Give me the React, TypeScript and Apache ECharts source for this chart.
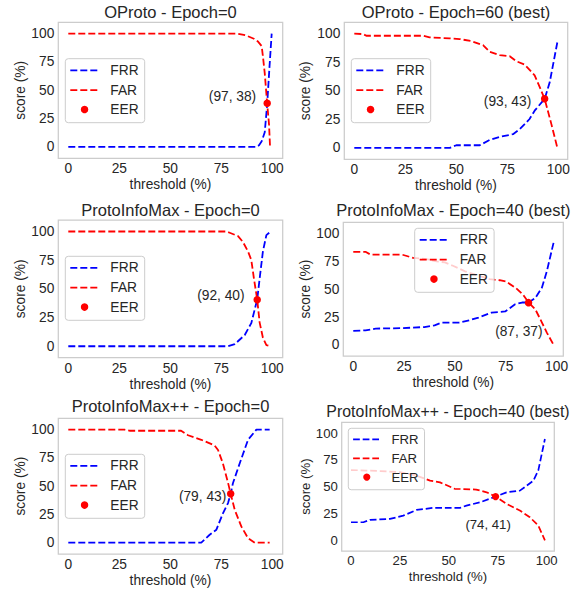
import React, { useEffect, useRef } from "react";
import * as echarts from "echarts";

// ---------- data ----------
const tickValues = [0, 25, 50, 75, 100];
const seriesNames = ["FRR", "FAR", "EER"];

const titles = [
  "OProto - Epoch=0",
  "OProto - Epoch=60 (best)",
  "ProtoInfoMax - Epoch=0",
  "ProtoInfoMax - Epoch=40 (best)",
  "ProtoInfoMax++ - Epoch=0",
  "ProtoInfoMax++ - Epoch=40 (best)",
];

const oproto0FRR = [[0, 0], [92, 0], [93.5, 1.5], [94.8, 5], [96.3, 13], [97.5, 38], [98.6, 70], [99.7, 100]];
const oproto0FAR = [[0, 100], [83, 100], [87, 98.5], [91, 95.5], [93, 93], [94.8, 89], [95.4, 80], [96.3, 65], [97.5, 38], [98.4, 20], [98.9, 0]];
const oproto0EER = [97.5, 38.5];

const oproto60FRR = [[0, 0], [46.8, 0], [50, 2.3], [61.5, 2.3], [66.4, 7], [71.3, 9.7], [77.8, 12], [81.1, 16.4], [83.5, 20.8], [85.9, 25.3], [88.4, 32.6], [93.3, 42.9], [95.8, 57.6], [99.5, 92.3]];
const oproto60FAR = [[0, 100], [4.3, 99.7], [5.9, 98.2], [33.7, 98.2], [36.9, 96.8], [46.8, 95.9], [51.7, 95.3], [57.4, 93.5], [63.1, 90], [66.4, 84.1], [71.3, 81.2], [76.2, 80.3], [79.4, 75.9], [83.5, 73], [88.4, 63.5], [90.9, 53.2], [93.3, 42.9], [96.6, 20.8], [99.5, 0.3]];
const oproto60EER = [93.3, 43];

const pim0FRR = [[0, 0], [78.3, 0], [81.6, 1.8], [86.5, 9.8], [89.7, 20.1], [92.6, 40.7], [93.8, 59], [95.4, 82.6], [97.1, 96.8], [99.2, 100]];
const pim0FAR = [[0, 100], [77.5, 100], [79.1, 98.9], [83.2, 96], [85.6, 90.9], [88.1, 82.6], [89.7, 75.2], [91, 59], [92.6, 40.7], [93.8, 20.6], [95.4, 7.4], [97.1, 1], [99.5, 0]];
const pim0EER = [92.6, 40.5];

const pim40FRR = [[0, 12.5], [6, 13], [11, 14.6], [24, 15], [35, 16], [40, 17.5], [43.6, 20], [52, 20], [57, 22], [61.6, 24.5], [68, 29], [74.7, 30], [79.6, 36.4], [83, 38], [86.2, 38], [89.5, 42], [92.8, 51.4], [95.2, 66], [98.5, 91.6]];
const pim40FAR = [[0, 83.5], [6, 83.5], [8.5, 81], [24, 81], [29.5, 78], [36, 77], [41, 75], [45, 74], [49, 71], [55, 66], [60, 63], [67, 59], [72, 58], [75, 57], [80, 51], [83.5, 45], [86.2, 38], [89.5, 32], [92.8, 20], [95.2, 11], [98.5, 0]];
const pim40EER = [86.2, 37.9];

const pimpp0FRR = [[0, 0], [65.2, 0], [69.3, 7], [72.6, 11.5], [75.8, 26], [78.3, 35], [79.6, 43.2], [80.7, 52.6], [84, 70], [88.1, 91], [92.2, 100], [98.7, 100]];
const pimpp0FAR = [[0, 100], [27.6, 100], [30, 99], [55.3, 99], [58.7, 95], [65.2, 91], [71.7, 86], [73.4, 82], [75.8, 70], [78.3, 53], [79.6, 43.2], [81.6, 29], [84.8, 14.4], [88.1, 4], [91.4, 0], [98.7, 0]];
const pimpp0EER = [79.6, 43.2];

const pimpp40FRR = [[0, 16.8], [6.3, 16.8], [9.7, 19], [19.9, 19.9], [26.7, 23], [33.5, 28.3], [42, 30.2], [55.7, 30.2], [59, 32.3], [66, 35.4], [73.9, 40.7], [79.5, 44.7], [86.3, 46.3], [89.8, 50.9], [93.2, 55.6], [95.7, 65], [99.1, 94.4]];
const pimpp40FAR = [[0, 65.5], [8, 65], [15, 64.5], [25, 63.5], [32, 61], [37, 58], [40.4, 55.6], [45.5, 54], [53, 48], [64, 47.3], [69.3, 44.7], [73.9, 40.7], [79.5, 34], [86.3, 27.7], [91.4, 21.5], [95.7, 13.7], [99.1, 0]];
const pimpp40EER = [73.9, 40.7];

const eerLabels = ["(97, 38)", "(93, 43)", "(92, 40)", "(87, 37)", "(79, 43)", "(74, 41)"];

const frrData = [oproto0FRR, oproto60FRR, pim0FRR, pim40FRR, pimpp0FRR, pimpp40FRR];
const farData = [oproto0FAR, oproto60FAR, pim0FAR, pim40FAR, pimpp0FAR, pimpp40FAR];
const eerData = [oproto0EER, oproto60EER, pim0EER, pim40EER, pimpp0EER, pimpp40EER];

// ---------- layout (positions / styles) ----------
const layouts = [
  { left: 58.3, top: 22.3, width: 224.4, height: 136, xMin: -4.9, xMax: 105.1, s: 1, titleY: 12.3, legend: [65.3, 58.7], lab: { align: "right", off: [-11, -7] }, yGap: 31 },
  { left: 344.3, top: 22.3, width: 223.4, height: 137, xMin: -4.9, xMax: 104.6, s: 1, titleY: 12.3, legend: [351.3, 58.7], lab: { align: "right", off: [-13.4, 2.6] }, yGap: 31.5 },
  { left: 58.3, top: 220, width: 224.4, height: 137.7, xMin: -4.9, xMax: 105.1, s: 1, titleY: 210, legend: [65.3, 256.3], lab: { align: "right", off: [-12.6, -4.7] }, yGap: 31 },
  { left: 343.3, top: 222.3, width: 220, height: 133.7, xMin: -4.9, xMax: 103.3, s: 1, titleY: 210, legend: [414.7, 228.3], lab: { align: "center", off: [-9.7, 29] }, yGap: 29 },
  { left: 58.3, top: 418.3, width: 224.4, height: 135.7, xMin: -4.9, xMax: 105.1, s: 1, titleY: 406.7, legend: [65.3, 454.3], lab: { align: "right", off: [-4.4, 2.7] }, yGap: 31 },
  { left: 341.7, top: 422.3, width: 212.6, height: 128.7, xMin: -4.75, xMax: 103.9, s: 0.96, titleY: 411.7, legend: [348.3, 428.3], lab: { align: "center", off: [-7.5, 28] }, yGap: 29.5 },
];

const FONT = "'Liberation Sans', Arial, Helvetica, sans-serif";
const TEXT = "#262626";
const BLUE = "#0000ff";
const RED = "#ff0000";

function legendElements(x0: number, y0: number, s: number) {
  const rows = [11.6, 31.4, 50.8].map((r) => y0 + r * s);
  const fs = 13.75 * s;
  const txt = (t: string, y: number) => ({
    type: "text",
    z: 60,
    x: x0 + 45 * s,
    y,
    style: { text: t, fill: TEXT, fontSize: fs, fontFamily: FONT, align: "left", verticalAlign: "middle", textAlign: "left", textVerticalAlign: "middle" },
  });
  const ln = (color: string, y: number) => ({
    type: "line",
    z: 60,
    shape: { x1: x0 + 5 * s, y1: y, x2: x0 + 33.5 * s, y2: y },
    style: { stroke: color, lineWidth: 1.8 * s, lineDash: [7 * s, 3 * s] },
  });
  return [
    {
      type: "rect",
      z: 59,
      shape: { x: x0, y: y0, width: 79.4 * s, height: 64 * s, r: 3 * s },
      style: { fill: "rgba(255,255,255,0.8)", stroke: "#cccccc", lineWidth: 1 },
    },
    ln(BLUE, rows[0]),
    txt(seriesNames[0], rows[0]),
    ln(RED, rows[1]),
    txt(seriesNames[1], rows[1]),
    { type: "circle", z: 60, shape: { cx: x0 + 19.25 * s, cy: rows[2], r: 3.75 * s }, style: { fill: RED } },
    txt(seriesNames[2], rows[2]),
  ];
}

function buildOption() {
  const grid: any[] = [];
  const xAxis: any[] = [];
  const yAxis: any[] = [];
  const series: any[] = [];
  const title: any[] = [];
  const graphic: any[] = [];

  layouts.forEach((L, i) => {
    const s = L.s;
    const fs = 13.75 * s;
    const sym = 7.5 * s;
    grid.push({
      left: L.left,
      top: L.top,
      width: L.width,
      height: L.height,
      show: true,
      borderColor: "#cccccc",
      borderWidth: 1.25,
      backgroundColor: "#ffffff",
    });
    xAxis.push({
      type: "value",
      gridIndex: i,
      min: L.xMin,
      max: L.xMax,
      axisLine: { show: false },
      axisTick: { show: false },
      splitLine: { show: false },
      axisLabel: { customValues: tickValues, fontSize: fs, color: TEXT, margin: 3.5 * s, fontFamily: FONT },
      name: "threshold (%)",
      nameLocation: "middle",
      nameGap: 19.5 * s,
      nameTextStyle: { fontSize: fs, color: TEXT, fontFamily: FONT },
    });
    yAxis.push({
      type: "value",
      gridIndex: i,
      min: -10,
      max: 110,
      axisLine: { show: false },
      axisTick: { show: false },
      splitLine: { show: false },
      axisLabel: { customValues: tickValues, fontSize: fs, color: TEXT, margin: 4 * s, fontFamily: FONT },
      name: "score (%)",
      nameLocation: "middle",
      nameGap: L.yGap,
      nameTextStyle: { fontSize: fs, color: TEXT, fontFamily: FONT },
    });
    title.push({
      text: titles[i],
      left: L.left + L.width / 2,
      top: L.titleY - 8.8 * s,
      textAlign: "center",
      padding: 0,
      textStyle: { fontSize: 16.5 * s, fontWeight: "normal", color: TEXT, fontFamily: FONT },
    });
    const dash = [7 * s, 3 * s];
    series.push({
      name: seriesNames[0],
      type: "line",
      xAxisIndex: i,
      yAxisIndex: i,
      data: frrData[i],
      symbol: "none",
      showSymbol: false,
      lineStyle: { color: BLUE, width: 1.8 * s, type: dash },
      itemStyle: { color: BLUE },
      silent: true,
      z: 2,
    });
    series.push({
      name: seriesNames[1],
      type: "line",
      xAxisIndex: i,
      yAxisIndex: i,
      data: farData[i],
      symbol: "none",
      showSymbol: false,
      lineStyle: { color: RED, width: 1.8 * s, type: dash },
      itemStyle: { color: RED },
      silent: true,
      z: 3,
    });
    series.push({
      name: seriesNames[2],
      type: "scatter",
      xAxisIndex: i,
      yAxisIndex: i,
      data: [eerData[i]],
      symbol: "circle",
      symbolSize: sym,
      itemStyle: { color: RED, opacity: 1 },
      silent: true,
      z: 4,
      label: {
        show: true,
        position: [sym / 2, sym / 2],
        formatter: eerLabels[i],
        align: L.lab.align,
        verticalAlign: "middle",
        offset: L.lab.off,
        color: TEXT,
        opacity: 1,
        textBorderWidth: 0,
        textBorderColor: "transparent",
        fontSize: fs,
        fontFamily: FONT,
      },
    });
    graphic.push(...legendElements(L.legend[0], L.legend[1], s));
  });

  return {
    animation: false,
    backgroundColor: "#ffffff",
    textStyle: { fontFamily: FONT },
    title,
    grid,
    xAxis,
    yAxis,
    series,
    graphic,
  };
}

export default function App() {
  const ref = useRef<HTMLDivElement>(null);
  useEffect(() => {
    if (!ref.current) return;
    const chart = echarts.init(ref.current, undefined, { renderer: "svg" });
    chart.setOption(buildOption() as any);
    return () => chart.dispose();
  }, []);
  return (
    <div
      ref={ref}
      style={{ position: "absolute", left: 0, top: 0, width: 580, height: 590, background: "#fff" }}
    />
  );
}
